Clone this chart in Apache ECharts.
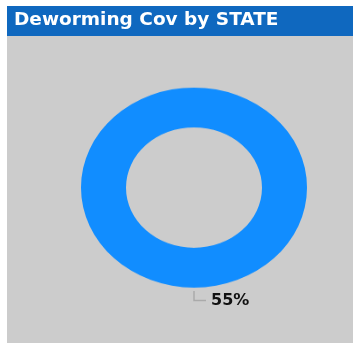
<!DOCTYPE html>
<html>
<head>
<meta charset="utf-8">
<script src="https://cdn.jsdelivr.net/npm/echarts@6/dist/echarts.min.js"></script>
<style>
  html, body { margin: 0; padding: 0; background: #ffffff; overflow: hidden; }
  #base { position: absolute; left: 0; top: 0; width: 353px; height: 343px; z-index: 1; }
  #ring { position: absolute; left: 0; top: 0; width: 353px; height: 388px; z-index: 2;
          transform-origin: 0 0; transform: scaleY(0.885); pointer-events: none; }
</style>
</head>
<body>
<div id="base"></div>
<div id="ring"></div>
<script>
const titleText = 'Deworming Cov by STATE';
const categories = ['Deworming Cov'];
const values = [55];

const pieData = categories.map((c, i) => ({ name: c, value: values[i] }));

const base = echarts.init(document.getElementById('base'), null, { renderer: 'canvas' });
base.setOption({
  animation: false,
  backgroundColor: '#ffffff',
  graphic: [
    { type: 'rect', z: 0, shape: { x: 7, y: 36, width: 346, height: 307 }, style: { fill: '#cccccc' } },
    { type: 'rect', z: 0, shape: { x: 7, y: 6, width: 346, height: 30 }, style: { fill: '#0f68bf' } }
  ],
  title: {
    text: titleText,
    left: 14, top: 10.5, padding: 0,
    textStyle: { color: '#ffffff', fontSize: 18.5, fontWeight: 'bold', fontFamily: 'DejaVu Sans' }
  },
  series: [{
    type: 'pie',
    center: [194, 187.5],
    radius: [0, 103.5],
    startAngle: 90,
    avoidLabelOverlap: false,
    silent: true,
    data: pieData,
    itemStyle: { color: 'rgba(0,0,0,0)' },
    label: {
      show: true, position: 'outside', formatter: '{c}%',
      color: '#111111', fontSize: 16, fontWeight: 'bold', fontFamily: 'DejaVu Sans',
      distanceToLabelLine: 5
    },
    labelLine: { show: true, length: 9.5, length2: 12, lineStyle: { color: '#aaaaaa', width: 1.5 } }
  }]
});

const ring = echarts.init(document.getElementById('ring'), null, { renderer: 'canvas' });
ring.setOption({
  animation: false,
  backgroundColor: 'transparent',
  series: [{
    type: 'pie',
    center: [194, 211.9],
    radius: [68, 113],
    startAngle: 90,
    silent: true,
    data: pieData,
    itemStyle: { color: '#118dff' },
    label: { show: false },
    labelLine: { show: false }
  }]
});
</script>
</body>
</html>
